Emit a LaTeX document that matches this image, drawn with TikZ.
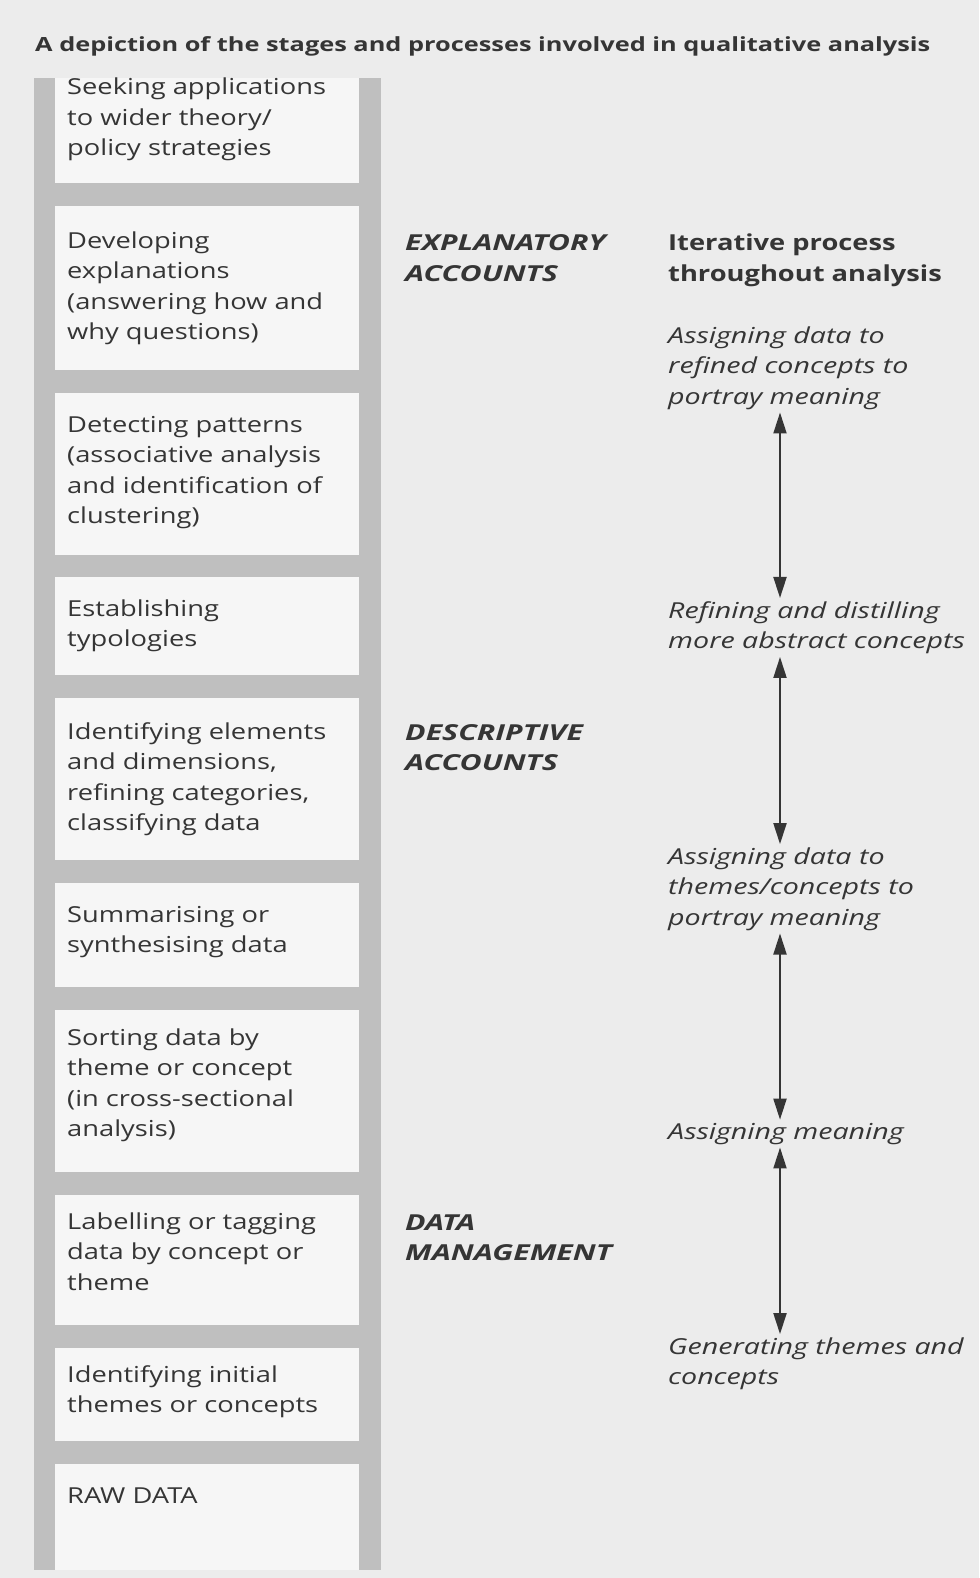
\documentclass[tikz,border=0pt]{standalone}
\usepackage{fontspec}
\setmainfont{Open Sans}[FakeStretch=1.24]
\newfontfamily\titlefont{Open Sans}[FakeStretch=1.3]
\newfontfamily\slantfont{Open Sans}[FakeStretch=1.3]
\newfontfamily\headfont{Open Sans}[FakeStretch=1.38]
\usetikzlibrary{arrows.meta}

\definecolor{paper}{HTML}{ECECEC}
\definecolor{rail}{HTML}{BFBFBF}
\definecolor{panel}{HTML}{F6F6F6}
\definecolor{ink}{HTML}{353535}

\begin{document}
\begin{tikzpicture}[x=1pt,y=-1pt]
    \tikzstyle{every node}=[inner sep=0pt, text=ink, align=left, anchor=base west]
    \tikzstyle{stage}=[font=\fontsize{22}{30.5}\selectfont]
    \tikzstyle{account}=[font=\fontsize{22}{30.5}\selectfont\headfont\bfseries\itshape]
    \tikzstyle{process}=[font=\fontsize{22}{30.5}\selectfont\slantfont\itshape]
    \tikzstyle{twoway}=[{Triangle[length=21pt,width=13pt]}-{Triangle[length=21pt,width=13pt]}, line width=2pt, draw=ink, shorten <=3pt, shorten >=3pt]

    \fill[paper] (0,0) rectangle (979,1578);
    \fill[rail] (34,78) rectangle (381,1570);
    \foreach \top/\bot in {78/183, 206/370, 393/555, 577/675, 698/860, 883/987, 1010/1172, 1195/1325, 1348/1441, 1464/1570}
        \fill[panel] (55,\top) rectangle (359,\bot);

    \node[font=\fontsize{19.5}{24}\selectfont\titlefont\bfseries] (title) at (35,52) {A depiction of the stages and processes involved in qualitative analysis};

    \node[stage] (seek) at (67,156) {Seeking applications\\to wider theory/\\policy strategies};
    \node[stage] (develop) at (67,339.5) {Developing\\explanations\\(answering how and\\why questions)};
    \node[stage] (detect) at (67,523.5) {Detecting patterns\\(associative analysis\\and identification of\\clustering)};
    \node[stage] (typology) at (67,646.5) {Establishing\\typologies};
    \node[stage] (elements) at (67,830.5) {Identifying elements\\and dimensions,\\refining categories,\\classifying data};
    \node[stage] (summary) at (67,952.5) {Summarising or\\synthesising data};
    \node[stage] (sorting) at (67,1136.5) {Sorting data by\\theme or concept\\(in cross-sectional\\analysis)};
    \node[stage] (labelling) at (67,1290) {Labelling or tagging\\data by concept or\\theme};
    \node[stage] (initial) at (67,1412.5) {Identifying initial\\themes or concepts};
    \node[stage] (raw) at (67,1503) {RAW DATA};

    \node[account] (explanatory) at (405,281.5) {EXPLANATORY\\ACCOUNTS};
    \node[account] (descriptive) at (405,770.5) {DESCRIPTIVE\\ACCOUNTS};
    \node[account] (management) at (405,1260.5) {DATA\\MANAGEMENT};

    \node[font=\fontsize{22}{30.5}\selectfont\bfseries] (iterative) at (668,281.5) {Iterative process\\throughout analysis};
    \node[process] (refined) at (668,404) {Assigning data to\\refined concepts to\\portray meaning};
    \node[process] (distil) at (668,648.5) {Refining and distilling\\more abstract concepts};
    \node[process] (themes) at (668,925) {Assigning data to\\themes/concepts to\\portray meaning};
    \node[process] (meaning) at (668,1139) {Assigning meaning};
    \node[process] (generate) at (668,1384.5) {Generating themes and\\concepts};

    \coordinate (ax) at (780,0);
    \draw[twoway] (refined.south -| ax) -- (distil.north -| ax);
    \draw[twoway] (distil.south -| ax) -- (themes.north -| ax);
    \draw[twoway] (themes.south -| ax) -- (meaning.north -| ax);
    \draw[twoway] (meaning.south -| ax) -- (generate.north -| ax);
\end{tikzpicture}
\end{document}
